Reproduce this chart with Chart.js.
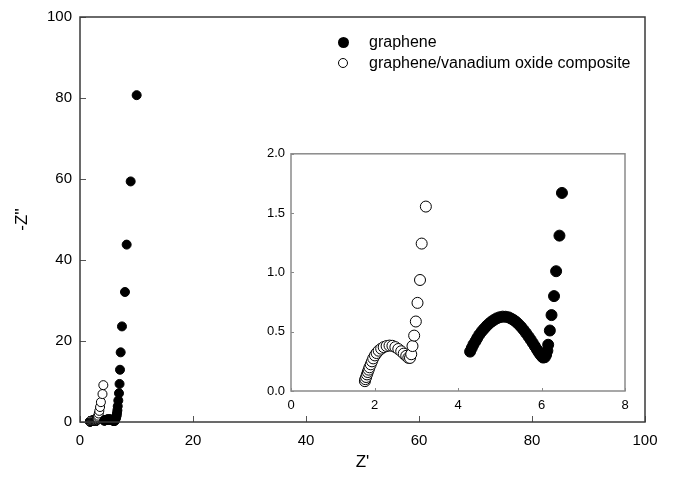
<!DOCTYPE html>
<html>
<head>
<meta charset="utf-8">
<script src="https://cdn.jsdelivr.net/npm/chart.js@4.4.1/dist/chart.umd.min.js"></script>
<style>
  body { margin: 0; background: #fff; }
  #wrap { position: relative; width: 674px; height: 484px; font-family: "Liberation Sans", Arial, sans-serif; }
  #mainChart { position: absolute; left: 0; top: 0; }
  #insetChart { position: absolute; left: 250px; top: 140px; }
  .lg-dot { position: absolute; border-radius: 50%; box-sizing: border-box; }
  .lg-text { position: absolute; font-size: 16px; line-height: 20px; color: #000; white-space: nowrap; }
</style>
</head>
<body>
<div id="wrap">
  <canvas id="mainChart" width="674" height="484"></canvas>
  <canvas id="insetChart" width="390" height="280"></canvas>
  <div class="lg-dot" style="left:338px;top:37px;width:11px;height:11px;background:#000;"></div>
  <div class="lg-text" style="left:369px;top:32px;">graphene</div>
  <div class="lg-dot" style="left:338px;top:58px;width:10px;height:10px;background:#fff;border:1px solid #000;"></div>
  <div class="lg-text" style="left:369px;top:53px;">graphene/vanadium oxide composite</div>
</div>
<script>
var grapheneZre = [4.29, 4.33, 4.37, 4.42, 4.46, 4.51, 4.57, 4.63, 4.69, 4.75, 4.81, 4.87, 4.93, 5.00, 5.07,
    5.14, 5.21, 5.27, 5.33, 5.39, 5.45, 5.51, 5.57, 5.63, 5.69, 5.74, 5.79, 5.84, 5.89, 5.93, 5.97, 6.01,
    6.04, 6.08, 6.11, 6.14, 6.16, 6.20, 6.24, 6.30, 6.35, 6.43, 6.49,
    6.55, 6.62, 6.68, 6.78, 6.90, 7.00, 7.08, 7.20, 7.43, 7.96, 8.26, 8.97, 10.03];
var grapheneZim = [0.332, 0.362, 0.392, 0.420, 0.446, 0.475, 0.503, 0.527, 0.550, 0.570, 0.587, 0.601, 0.613, 0.622, 0.627,
    0.626, 0.621, 0.611, 0.599, 0.583, 0.563, 0.541, 0.516, 0.488, 0.459, 0.433, 0.406, 0.378, 0.350, 0.328, 0.308, 0.291,
    0.282, 0.285, 0.305, 0.340, 0.390, 0.510, 0.640, 0.800, 1.010, 1.310, 1.670,
    2.20, 2.90, 3.90, 5.30, 7.10, 9.40, 12.9, 17.2, 23.6, 32.1, 43.8, 59.4, 80.7];

var compositeZre = [1.77, 1.78, 1.80, 1.82, 1.84, 1.86, 1.88, 1.91, 1.94, 1.97, 2.01, 2.05, 2.10, 2.16, 2.22,
    2.29, 2.36, 2.43, 2.50, 2.57, 2.64, 2.70, 2.76, 2.81, 2.85, 2.88, 2.91, 2.95, 2.99, 3.03, 3.09, 3.13, 3.23,
    3.32, 3.42, 3.55, 3.70, 3.98, 4.13];
var compositeZim = [0.083, 0.100, 0.118, 0.140, 0.160, 0.180, 0.200, 0.225, 0.250, 0.275, 0.300, 0.320, 0.340, 0.357, 0.370,
    0.379, 0.383, 0.381, 0.370, 0.354, 0.335, 0.315, 0.296, 0.280, 0.279, 0.310, 0.379, 0.467, 0.586, 0.743, 0.936, 1.243, 1.555,
    2.10, 2.75, 3.70, 4.90, 6.90, 9.10];

var mainXTicks = [0, 20, 40, 60, 80, 100];
var mainYTicks = [0, 20, 40, 60, 80, 100];
var insetXTicks = [0, 2, 4, 6, 8];
var insetYTicks = [0, 0.5, 1.0, 1.5, 2.0];

function toPoints(xs, ys) {
    return xs.map(function (x, i) { return { x: x, y: ys[i] }; });
}

var FONT = '"Liberation Sans", Arial, sans-serif';

// box round the plot area + small ticks pointing inwards
var boxTicks = {
    id: 'boxTicks',
    afterDraw: function (chart, args, opts) {
        var ctx = chart.ctx, a = chart.chartArea;
        var xs = chart.scales.x, ys = chart.scales.y;
        ctx.save();
        ctx.strokeStyle = opts.tickColor;
        ctx.lineWidth = 1;
        xs.ticks.forEach(function (t) {
            var px = Math.round(xs.getPixelForValue(t.value)) + 0.5;
            ctx.beginPath();
            ctx.moveTo(px, a.bottom);
            ctx.lineTo(px, a.bottom - opts.len);
            ctx.stroke();
        });
        ys.ticks.forEach(function (t) {
            var py = Math.round(ys.getPixelForValue(t.value)) + 0.5;
            ctx.beginPath();
            ctx.moveTo(a.left, py);
            ctx.lineTo(a.left + opts.len, py);
            ctx.stroke();
        });
        ctx.strokeStyle = opts.color;
        ctx.lineWidth = opts.width;
        ctx.strokeRect(a.left, a.top, a.right - a.left, a.bottom - a.top);
        ctx.restore();
    }
};

function fixedTicks(list) {
    return function (scale) {
        scale.ticks = list.map(function (v) { return { value: v }; });
    };
}

var mainChart = new Chart(document.getElementById('mainChart').getContext('2d'), {
    type: 'scatter',
    data: {
        datasets: [
            {
                label: 'graphene',
                data: toPoints(grapheneZre, grapheneZim),
                pointRadius: 4.5,
                pointBackgroundColor: '#000',
                pointBorderColor: '#000',
                pointBorderWidth: 1,
                clip: false
            },
            {
                label: 'graphene/vanadium oxide composite',
                data: toPoints(compositeZre, compositeZim),
                pointRadius: 4.5,
                pointBackgroundColor: '#fff',
                pointBorderColor: '#000',
                pointBorderWidth: 1,
                clip: false
            }
        ]
    },
    options: {
        responsive: false,
        animation: false,
        layout: { padding: { left: 0, top: 14, right: 29, bottom: 0 } },
        plugins: {
            legend: { display: false },
            tooltip: { enabled: false },
            boxTicks: { color: '#3a3a3a', width: 1.5, tickColor: '#555', len: 6 }
        },
        scales: {
            x: {
                type: 'linear', min: 0, max: 100,
                afterBuildTicks: fixedTicks(mainXTicks),
                afterFit: function (s) { s.height = 62; },
                grid: { display: false, drawTicks: false },
                border: { display: false },
                ticks: { color: '#000', font: { family: FONT, size: 15 }, padding: 10, maxRotation: 0 },
                title: { display: true, text: "Z'", color: '#000', font: { family: FONT, size: 17 }, padding: { top: 0, bottom: 11 } }
            },
            y: {
                type: 'linear', min: 0, max: 100,
                afterBuildTicks: fixedTicks(mainYTicks),
                afterFit: function (s) { s.width = 80; },
                grid: { display: false, drawTicks: false },
                border: { display: false },
                ticks: { color: '#000', font: { family: FONT, size: 15 }, padding: 8 },
                title: { display: true, text: "-Z''", color: '#000', font: { family: FONT, size: 17 }, padding: { top: 12, bottom: 0 } }
            }
        }
    },
    plugins: [boxTicks]
});

var insetChart = new Chart(document.getElementById('insetChart').getContext('2d'), {
    type: 'scatter',
    data: {
        datasets: [
            {
                label: 'graphene',
                data: toPoints(grapheneZre, grapheneZim),
                pointRadius: 5.5,
                pointBackgroundColor: '#000',
                pointBorderColor: '#000',
                pointBorderWidth: 1,
                clip: 0
            },
            {
                label: 'graphene/vanadium oxide composite',
                data: toPoints(compositeZre, compositeZim),
                pointRadius: 5.5,
                pointBackgroundColor: '#fff',
                pointBorderColor: '#000',
                pointBorderWidth: 1,
                clip: 0
            }
        ]
    },
    options: {
        responsive: false,
        animation: false,
        layout: { padding: { left: 0, top: 9, right: 15, bottom: 0 } },
        plugins: {
            legend: { display: false },
            tooltip: { enabled: false },
            boxTicks: { color: '#8a8a8a', width: 1.5, tickColor: '#888', len: 3 }
        },
        scales: {
            x: {
                type: 'linear', min: 0, max: 8,
                afterBuildTicks: fixedTicks(insetXTicks),
                afterFit: function (s) { s.height = 29; },
                grid: { display: false, drawTicks: false },
                border: { display: false },
                ticks: { color: '#000', font: { family: FONT, size: 13 }, padding: 7, maxRotation: 0 }
            },
            y: {
                type: 'linear', min: 0, max: 2,
                afterBuildTicks: fixedTicks(insetYTicks),
                afterFit: function (s) { s.width = 41; },
                grid: { display: false, drawTicks: false },
                border: { display: false },
                ticks: {
                    color: '#000', font: { family: FONT, size: 13 }, padding: 6,
                    callback: function (v) { return Number(v).toFixed(1); }
                }
            }
        }
    },
    plugins: [boxTicks]
});
</script>
</body>
</html>
